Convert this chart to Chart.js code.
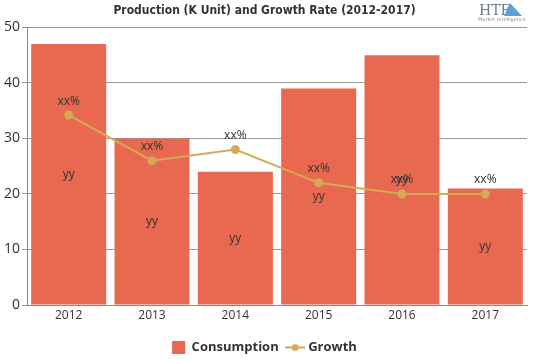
<!DOCTYPE html>
<html>
<head>
<meta charset="utf-8">
<script src="https://cdn.jsdelivr.net/npm/chart.js@4/dist/chart.umd.min.js"></script>
<style>
  html, body { margin: 0; padding: 0; background: #fff; }
  #wrap { width: 539px; height: 359px; position: relative; }
</style>
</head>
<body>
<div id="wrap"><canvas id="prodChart"></canvas></div>
<script>
const years = ['2012', '2013', '2014', '2015', '2016', '2017'];
const consumption = [47, 30, 24, 39, 45, 21];
const growth = [34.2, 26, 28, 22, 20, 20];
const growthLabels = ['xx%', 'xx%', 'xx%', 'xx%', 'xx%', 'xx%'];
const barLabels = ['yy', 'yy', 'yy', 'yy', 'yy', 'yy'];
const yTicks = [0, 10, 20, 30, 40, 50];

const barColor = '#e8694f';
const lineColor = '#d4aa55';

// legend marker for the line series: short line with a dot
const lineMarker = document.createElement('canvas');
lineMarker.width = 22;
lineMarker.height = 10;
(function () {
    const c = lineMarker.getContext('2d');
    c.strokeStyle = lineColor;
    c.lineWidth = 2;
    c.beginPath();
    c.moveTo(1, 5);
    c.lineTo(21, 5);
    c.stroke();
    c.fillStyle = lineColor;
    c.beginPath();
    c.arc(11, 5, 3.5, 0, Math.PI * 2);
    c.fill();
})();

// keep the legend box short so the plot can reach further down
const legendHeight = {
    id: 'legendHeight',
    beforeUpdate(chart) {
        const lg = chart.legend;
        if (lg && !lg._fitPatched) {
            const orig = lg.fit;
            lg.fit = function () { orig.call(this); this.height = 28; };
            lg._fitPatched = true;
        }
    }
};

const valueLabels = {
    id: 'valueLabels',
    afterDatasetsDraw(chart) {
        const ctx = chart.ctx;
        ctx.save();
        ctx.font = '12px "Open Sans", sans-serif';
        ctx.fillStyle = '#333';
        ctx.textAlign = 'center';
        ctx.textBaseline = 'middle';
        chart.getDatasetMeta(1).data.forEach((bar, i) => {
            const mid = (bar.y + bar.base) / 2;
            ctx.fillText(barLabels[i], bar.x, mid);
        });
        chart.getDatasetMeta(0).data.forEach((pt, i) => {
            ctx.fillText(growthLabels[i], pt.x, pt.y - 14);
        });
        ctx.restore();
    }
};

const logo = {
    id: 'logo',
    afterDraw(chart) {
        const ctx = chart.ctx;
        ctx.save();
        ctx.fillStyle = '#6b7a8c';
        ctx.font = '14px "DejaVu Serif", serif';
        ctx.textBaseline = 'alphabetic';
        ctx.fillText('HTF', 479, 15);
        ctx.fillStyle = '#5ba3d6';
        ctx.beginPath();
        ctx.moveTo(510, 3);
        ctx.lineTo(522, 16);
        ctx.lineTo(504, 16);
        ctx.closePath();
        ctx.fill();
        ctx.fillStyle = '#8893a0';
        ctx.font = '5px "DejaVu Sans", sans-serif';
        ctx.fillText('Market Intelligence', 478, 21);
        ctx.restore();
    }
};

new Chart(document.getElementById('prodChart'), {
    data: {
        labels: years,
        datasets: [{
            type: 'line',
            label: 'Growth',
            data: growth,
            borderColor: lineColor,
            backgroundColor: lineColor,
            borderWidth: 2,
            pointRadius: 3.5,
            pointHoverRadius: 3.5,
            tension: 0,
            order: 0
        }, {
            type: 'bar',
            label: 'Consumption',
            data: consumption,
            backgroundColor: barColor,
            barPercentage: 0.9,
            categoryPercentage: 1,
            order: 1
        }]
    },
    plugins: [legendHeight, valueLabels, logo],
    options: {
        responsive: true,
        maintainAspectRatio: false,
        animation: false,
        layout: { padding: { left: 2, right: 12, top: 0, bottom: 0 } },
        scales: {
            x: {
                offset: true,
                grid: { display: false, drawTicks: false },
                border: { color: '#888' },
                ticks: { color: '#333', font: { family: 'Open Sans', size: 12 }, padding: 3 },
                afterFit: axis => { axis.height = 26; }
            },
            y: {
                min: 0,
                max: 50,
                afterBuildTicks: axis => { axis.ticks = yTicks.map(v => ({ value: v })); },
                grid: { color: '#999', tickLength: 5 },
                border: { color: '#888' },
                ticks: { color: '#333', font: { family: 'Open Sans', size: 14 }, padding: 2 }
            }
        },
        plugins: {
            title: {
                display: true,
                text: 'Production (K Unit) and Growth Rate (2012-2017)',
                color: '#333',
                font: { family: 'DejaVu Sans Condensed', size: 12, weight: 'bold' },
                padding: { top: 4, bottom: 9 }
            },
            legend: {
                position: 'bottom',
                reverse: true,
                labels: {
                    usePointStyle: true,
                    color: '#333',
                    font: { family: 'Open Sans', size: 13, weight: 'bold' },
                    padding: 10,
                    generateLabels(chart) {
                        return chart.data.datasets.map((ds, i) => ({
                            text: ds.label,
                            fillStyle: ds.backgroundColor,
                            strokeStyle: ds.backgroundColor,
                            lineWidth: 0,
                            pointStyle: ds.type === 'line' ? lineMarker : 'rect',
                            datasetIndex: i,
                            fontColor: '#333'
                        }));
                    }
                }
            },
            tooltip: { enabled: false }
        }
    }
});
</script>
</body>
</html>
